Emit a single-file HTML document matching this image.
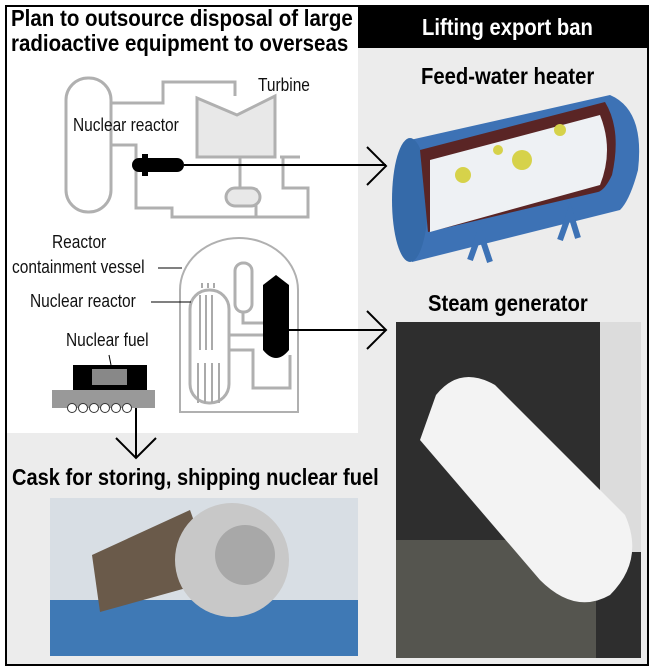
<!DOCTYPE html>
<html><head><style>
body{margin:0;width:654px;height:670px;background:#fff;overflow:hidden;font-family:"Liberation Sans",sans-serif}
.a{position:absolute}
.t{font-weight:bold;color:#000;transform:scaleX(0.88);transform-origin:left top;white-space:nowrap}
.l{font-size:18px;color:#111;white-space:nowrap;transform:scaleX(0.86);transform-origin:left top}
</style></head><body>
<div class="a" style="left:5px;top:5px;width:640px;height:657px;border:2px solid #000;background:#ececec"></div>
<div class="a" style="left:7px;top:7px;width:351px;height:426px;background:#fff"></div>
<div class="a" style="left:358px;top:7px;width:289px;height:41px;background:#000"></div>
<div class="a t" style="left:11px;top:6px;font-size:23.3px;line-height:25px">Plan to outsource disposal of large<br>radioactive equipment to overseas</div>
<div class="a t" style="left:422px;top:14px;font-size:23px;color:#fff">Lifting export ban</div>
<div class="a t" style="left:421px;top:63px;font-size:23px">Feed-water heater</div>
<div class="a t" style="left:428px;top:290px;font-size:23px">Steam generator</div>
<div class="a t" style="left:12px;top:464px;font-size:22.8px">Cask for storing, shipping nuclear fuel</div>
<svg class="a" style="left:0;top:0" width="654" height="670">
<g fill="none" stroke="#b0b0b0" stroke-width="3">
<rect x="66" y="78" width="45" height="134" rx="22"/>
<path d="M110 103 H163 V82 H235 V96 M110 145 H136 V208 M136 185 V208 H172 V217 H308 V188 H283 V157 M240 157 V188 M256 188 V217 M280 157 H300"/>
<path d="M197 98 L237 115 L275 96 V157 H197 Z" fill="#e8e8e8"/>
<rect x="226" y="188" width="34" height="18" rx="9" fill="#e8e8e8"/>
<path d="M180 412 V290 A59 52 0 0 1 298 290 V412 Z" stroke-width="2"/>
<rect x="190" y="290" width="39" height="113" rx="19"/>
<rect x="235" y="263" width="17" height="49" rx="8"/>
<path d="M243 312 V323 H263 M229 335 H263 M229 350 H253 V388 H290 V355"/>
</g>
<g stroke="#aaa" stroke-width="2"><path d="M200 295 V350 M206 295 V350 M212 295 V350 M198 363 V403 M205 363 V403 M212 363 V403 M219 363 V403 M202 283 V288 M208 283 V288 M214 283 V288"/></g>
<path d="M263 285 L276 275 L289 285 V350 Q276 366 263 350 Z" fill="#000"/>
<rect x="132" y="158" width="52" height="14" rx="7" fill="#000"/>
<rect x="142" y="154" width="6" height="22" fill="#000"/>
<g stroke="#000" stroke-width="2" fill="none">
<path d="M184 165 H386 M367 147 L386 166 L367 185"/>
<path d="M289 330 H386 M367 311 L386 330 L367 349"/>
<path d="M136 380 V458 M116 438 L136 458 L156 438"/>
</g>
<g stroke="#000" stroke-width="1" fill="none"><path d="M158 268 H182 M151 302 H191 M109 355 L111 365"/></g>
<rect x="73" y="365" width="74" height="25" fill="#000"/>
<rect x="92" y="369" width="35" height="16" fill="#888"/>
<rect x="52" y="390" width="103" height="18" fill="#999"/>
<g fill="#fff" stroke="#333"><circle cx="72" cy="408" r="4.5"/><circle cx="83" cy="408" r="4.5"/><circle cx="94" cy="408" r="4.5"/><circle cx="105" cy="408" r="4.5"/><circle cx="116" cy="408" r="4.5"/><circle cx="127" cy="408" r="4.5"/></g>
<path d="M410 140 L610 95 Q645 110 638 170 Q630 200 620 210 L412 262 Z" fill="#3d72b5"/>
<ellipse cx="410" cy="200" rx="18" ry="62" fill="#356aa9"/>
<path d="M420 150 L605 102 Q622 130 612 175 Q605 190 598 192 L428 232 Z" fill="#5a2525"/>
<path d="M430 160 L600 115 Q614 150 600 185 L430 232 Z" fill="#eef1f4"/>
<circle cx="463" cy="175" r="8" fill="#d6d24a"/><circle cx="522" cy="160" r="10" fill="#d6d24a"/><circle cx="560" cy="130" r="6" fill="#d6d24a"/><circle cx="498" cy="150" r="5" fill="#d6d24a"/>
<path d="M470 260 L480 232 L490 262 M560 240 L570 212 L578 238" stroke="#3d72b5" stroke-width="6" fill="none"/>
<rect x="396" y="322" width="245" height="336" fill="#2e2e2e"/>
<rect x="600" y="322" width="41" height="230" fill="#dcdcdc"/>
<rect x="396" y="540" width="200" height="118" fill="#55554f"/>
<path d="M436 395 Q460 365 495 385 L625 515 Q645 560 610 595 Q575 615 540 580 L420 440 Z" fill="#f3f3f3"/>
<rect x="50" y="498" width="308" height="158" fill="#d8dee4"/>
<rect x="50" y="600" width="308" height="56" fill="#3f79b5"/>
<path d="M92 555 L190 510 L215 580 L100 612 Z" fill="#6a5a4a"/>
<circle cx="232" cy="560" r="57" fill="#c8c8c8"/><circle cx="245" cy="555" r="30" fill="#a8a8a8"/>
</svg>
<div class="a l" style="left:258px;top:75px">Turbine</div>
<div class="a l" style="left:73px;top:115px">Nuclear reactor</div>
<div class="a l" style="left:52px;top:232px">Reactor</div>
<div class="a l" style="left:12px;top:257px">containment vessel</div>
<div class="a l" style="left:30px;top:291px">Nuclear reactor</div>
<div class="a l" style="left:66px;top:330px">Nuclear fuel</div>
</body></html>
